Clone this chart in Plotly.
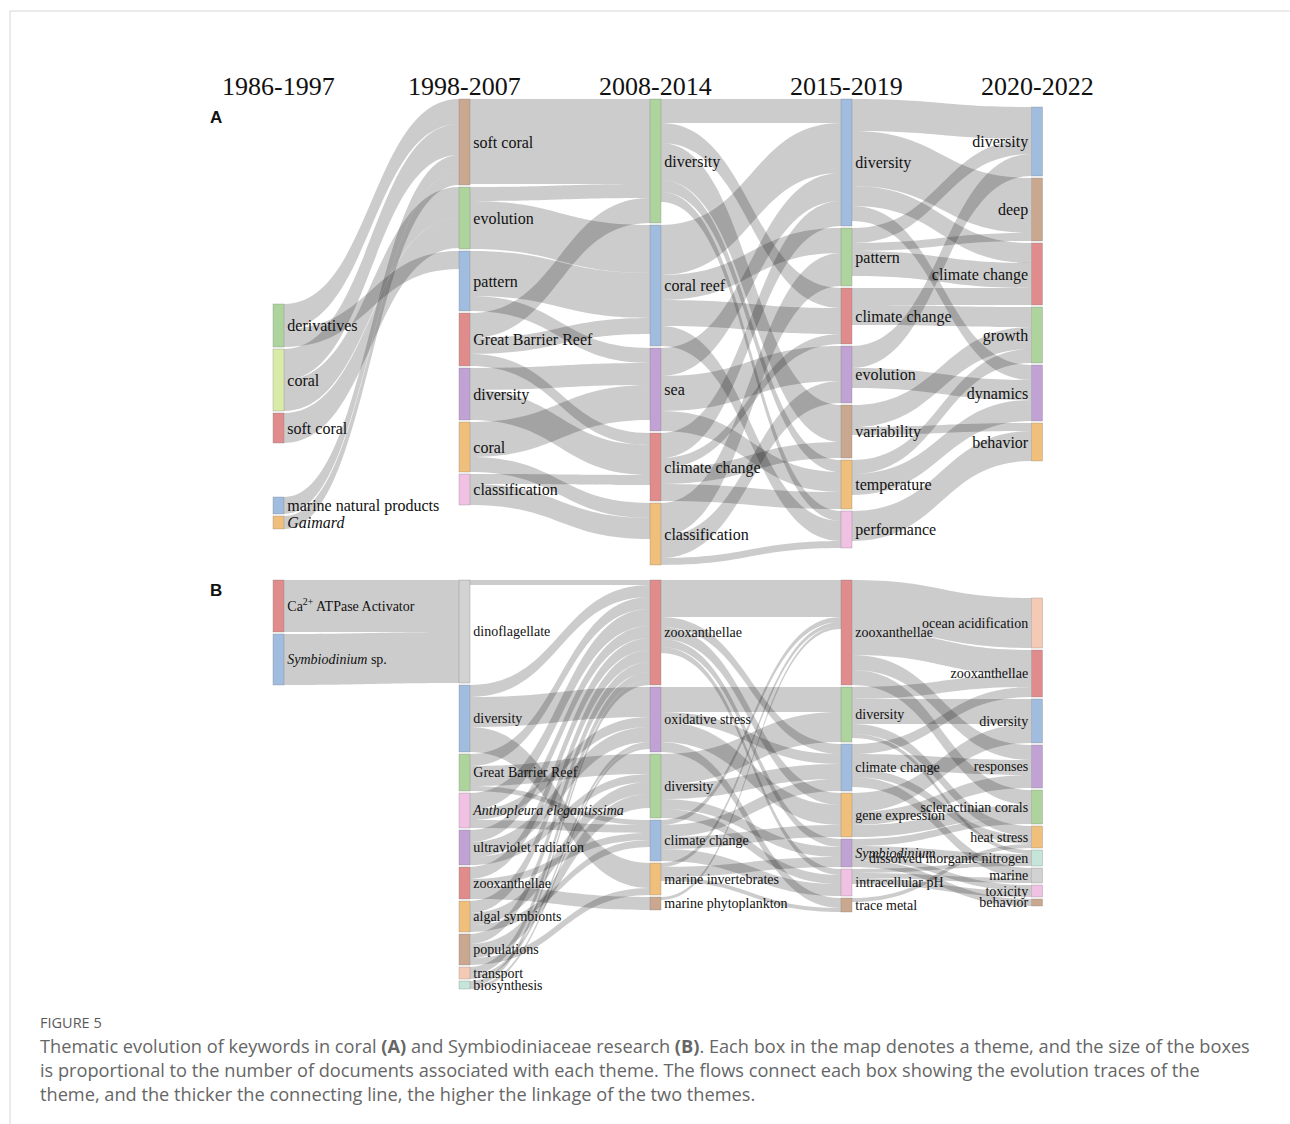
import plotly.graph_objects as go

# ---------------------------------------------------------------------------
# Data
# ---------------------------------------------------------------------------
PERIODS = ["1986-1997", "1998-2007", "2008-2014", "2015-2019", "2020-2022"]

# Panel A - coral research: themes per period (top to bottom)
A_COL1 = ["derivatives", "coral", "soft coral", "marine natural products", "Gaimard"]
A_COL2 = ["soft coral", "evolution", "pattern", "Great Barrier Reef", "diversity",
          "coral", "classification"]
A_COL3 = ["diversity", "coral reef", "sea", "climate change", "classification"]
A_COL4 = ["diversity", "pattern", "climate change", "evolution", "variability",
          "temperature", "performance"]
A_COL5 = ["diversity", "deep", "climate change", "growth", "dynamics", "behavior"]

# Panel A flows between consecutive periods: (theme in period k, theme in period k+1, weight)
A_FLOW_12 = [("derivatives", "soft coral", 25), ("derivatives", "pattern", 18),
             ("coral", "soft coral", 31), ("coral", "evolution", 31),
             ("soft coral", "evolution", 30),
             ("marine natural products", "soft coral", 17), ("Gaimard", "soft coral", 13)]
A_FLOW_23 = [("soft coral", "diversity", 85),
             ("evolution", "diversity", 14), ("evolution", "coral reef", 48),
             ("pattern", "coral reef", 45), ("pattern", "sea", 15),
             ("Great Barrier Reef", "diversity", 25), ("Great Barrier Reef", "coral reef", 16),
             ("Great Barrier Reef", "climate change", 12),
             ("diversity", "sea", 22), ("diversity", "climate change", 30),
             ("coral", "sea", 35), ("coral", "classification", 15),
             ("classification", "climate change", 10), ("classification", "classification", 21)]
A_FLOW_34 = [("diversity", "diversity", 24), ("diversity", "climate change", 20),
             ("diversity", "variability", 37), ("diversity", "temperature", 12),
             ("diversity", "performance", 10),
             ("coral reef", "diversity", 50), ("coral reef", "pattern", 25),
             ("coral reef", "climate change", 26), ("coral reef", "performance", 20),
             ("sea", "diversity", 28), ("sea", "evolution", 35), ("sea", "temperature", 20),
             ("climate change", "diversity", 25), ("climate change", "climate change", 10),
             ("climate change", "temperature", 17), ("climate change", "variability", 16),
             ("classification", "pattern", 33), ("classification", "evolution", 22),
             ("classification", "performance", 7)]
A_FLOW_45 = [("diversity", "diversity", 32), ("diversity", "deep", 55),
             ("diversity", "climate change", 20), ("diversity", "dynamics", 15),
             ("pattern", "diversity", 15), ("pattern", "deep", 8), ("pattern", "climate change", 25),
             ("climate change", "climate change", 17), ("climate change", "growth", 20),
             ("evolution", "diversity", 22), ("evolution", "dynamics", 20),
             ("variability", "growth", 22), ("variability", "behavior", 8),
             ("temperature", "growth", 14), ("temperature", "dynamics", 21),
             ("performance", "behavior", 30)]

# Panel B - Symbiodiniaceae research
B_COL1 = ["Ca2+ ATPase Activator", "Symbiodinium sp."]
B_COL2 = ["dinoflagellate", "diversity", "Great Barrier Reef", "Anthopleura elegantissima",
          "ultraviolet radiation", "zooxanthellae", "algal symbionts", "populations",
          "transport", "biosynthesis"]
B_COL3 = ["zooxanthellae", "oxidative stress", "diversity", "climate change",
          "marine invertebrates", "marine phytoplankton"]
B_COL4 = ["zooxanthellae", "diversity", "climate change", "gene expression",
          "Symbiodinium", "intracellular pH", "trace metal"]
B_COL5 = ["ocean acidification", "zooxanthellae", "diversity", "responses",
          "scleractinian corals", "heat stress", "dissolved inorganic nitrogen",
          "marine", "toxicity", "behavior"]

B_FLOW_12 = [("Ca2+ ATPase Activator", "dinoflagellate", 52),
             ("Symbiodinium sp.", "dinoflagellate", 51)]
B_FLOW_23 = [("dinoflagellate", "zooxanthellae", 5),
             ("diversity", "zooxanthellae", 12), ("diversity", "oxidative stress", 30),
             ("diversity", "marine invertebrates", 25),
             ("Great Barrier Reef", "zooxanthellae", 12), ("Great Barrier Reef", "diversity", 20),
             ("Great Barrier Reef", "climate change", 5),
             ("Anthopleura elegantissima", "zooxanthellae", 17),
             ("Anthopleura elegantissima", "oxidative stress", 10),
             ("Anthopleura elegantissima", "climate change", 8),
             ("ultraviolet radiation", "zooxanthellae", 12),
             ("ultraviolet radiation", "oxidative stress", 15),
             ("ultraviolet radiation", "diversity", 8),
             ("zooxanthellae", "zooxanthellae", 12), ("zooxanthellae", "climate change", 7),
             ("zooxanthellae", "marine phytoplankton", 13),
             ("algal symbionts", "zooxanthellae", 12), ("algal symbionts", "diversity", 12),
             ("algal symbionts", "climate change", 7),
             ("populations", "zooxanthellae", 10), ("populations", "diversity", 14),
             ("populations", "marine invertebrates", 7),
             ("transport", "zooxanthellae", 8), ("transport", "oxidative stress", 4),
             ("biosynthesis", "zooxanthellae", 5), ("biosynthesis", "oxidative stress", 3)]
B_FLOW_34 = [("zooxanthellae", "zooxanthellae", 37), ("zooxanthellae", "climate change", 10),
             ("zooxanthellae", "gene expression", 12), ("zooxanthellae", "Symbiodinium", 8),
             ("zooxanthellae", "intracellular pH", 6),
             ("oxidative stress", "diversity", 25), ("oxidative stress", "gene expression", 20),
             ("oxidative stress", "climate change", 10), ("oxidative stress", "trace metal", 10),
             ("diversity", "diversity", 30), ("diversity", "climate change", 15),
             ("diversity", "Symbiodinium", 10), ("diversity", "intracellular pH", 9),
             ("climate change", "zooxanthellae", 5), ("climate change", "climate change", 12),
             ("climate change", "gene expression", 12), ("climate change", "intracellular pH", 12),
             ("marine invertebrates", "zooxanthellae", 4),
             ("marine invertebrates", "Symbiodinium", 10),
             ("marine invertebrates", "trace metal", 4),
             ("marine phytoplankton", "zooxanthellae", 3)]
B_FLOW_45 = [("zooxanthellae", "ocean acidification", 50), ("zooxanthellae", "zooxanthellae", 25),
             ("zooxanthellae", "responses", 15), ("zooxanthellae", "scleractinian corals", 15),
             ("diversity", "zooxanthellae", 12), ("diversity", "diversity", 25),
             ("diversity", "heat stress", 10), ("diversity", "dissolved inorganic nitrogen", 4),
             ("climate change", "zooxanthellae", 10), ("climate change", "responses", 15),
             ("climate change", "heat stress", 8), ("climate change", "marine", 10),
             ("gene expression", "diversity", 19), ("gene expression", "responses", 13),
             ("gene expression", "scleractinian corals", 12),
             ("Symbiodinium", "scleractinian corals", 7),
             ("Symbiodinium", "dissolved inorganic nitrogen", 8),
             ("Symbiodinium", "toxicity", 6), ("Symbiodinium", "behavior", 7),
             ("intracellular pH", "dissolved inorganic nitrogen", 4),
             ("intracellular pH", "marine", 5), ("intracellular pH", "toxicity", 6),
             ("trace metal", "heat stress", 4)]

# Display text for themes that need italics or superscripts
RICH_LABELS = {
    "Gaimard": "<i>Gaimard</i>",
    "Ca2+ ATPase Activator": "Ca<sup>2+</sup> ATPase Activator",
    "Symbiodinium sp.": "<i>Symbiodinium</i> sp.",
    "Anthopleura elegantissima": "<i>Anthopleura elegantissima</i>",
    "Symbiodinium": "<i>Symbiodinium</i>",
}

CAPTION_TITLE = "FIGURE 5"
CAPTION_LINES = [
    "Thematic evolution of keywords in coral <b>(A)</b> and Symbiodiniaceae research <b>(B)</b>. "
    "Each box in the map denotes a theme, and the size of the boxes",
    "is proportional to the number of documents associated with each theme. "
    "The flows connect each box showing the evolution traces of the",
    "theme, and the thicker the connecting line, the higher the linkage of the two themes.",
]

# ---------------------------------------------------------------------------
# Styling / layout
# ---------------------------------------------------------------------------
W, H = 1290, 1124
PALETTE = {
    "green": "rgba(160,205,140,0.85)", "lime": "rgba(214,233,160,0.9)",
    "red": "rgba(219,120,120,0.85)", "blue": "rgba(150,182,220,0.9)",
    "orange": "rgba(238,184,110,0.9)", "brown": "rgba(196,158,132,0.9)",
    "purple": "rgba(186,152,208,0.9)", "pink": "rgba(238,186,224,0.9)",
    "peach": "rgba(244,196,172,0.9)", "mint": "rgba(190,226,212,0.9)",
    "gray": "rgba(205,205,205,0.9)",
}
A_COLORS = [
    ["green", "lime", "red", "blue", "orange"],
    ["brown", "green", "blue", "red", "purple", "orange", "pink"],
    ["green", "blue", "purple", "red", "orange"],
    ["blue", "green", "red", "purple", "brown", "orange", "pink"],
    ["blue", "brown", "red", "green", "purple", "orange"],
]
B_COLORS = [
    ["red", "blue"],
    ["gray", "blue", "green", "pink", "purple", "red", "orange", "brown", "peach", "mint"],
    ["red", "purple", "green", "blue", "orange", "brown"],
    ["red", "green", "blue", "orange", "purple", "pink", "brown"],
    ["peach", "red", "blue", "purple", "green", "orange", "mint", "gray", "pink", "brown"],
]
COL_CENTER_PX = [278.5, 464.5, 655.5, 846.5, 1037]
A_COL_TOP_PX = [304, 99, 99, 99, 107]
B_COL_TOP_PX = [580, 580, 580, 580, 598]
A_EXTRA_GAP = {(0, "marine natural products"): 52}
NODE_GAP = 2
PAD = 2
LINK_COLOR = "rgba(0,0,0,0.2)"
SERIF = "Liberation Serif, Times New Roman, serif"


def build_sankey(columns, flows, colors, col_top, extra_gap, font_size):
    nodes = [(c, k) for c, col in enumerate(columns) for k in col]
    idx = {n: i for i, n in enumerate(nodes)}
    src, tgt, val = [], [], []
    for c, pair in enumerate(flows):
        for s, t, v in pair:
            src.append(idx[(c, s)])
            tgt.append(idx[(c + 1, t)])
            val.append(v)
    n = len(nodes)
    inflow, outflow = [0] * n, [0] * n
    outs = {i: [] for i in range(n)}
    for s, t, v in zip(src, tgt, val):
        outflow[s] += v
        inflow[t] += v
        if t not in outs[s]:
            outs[s].append(t)
    size = [max(a, b) for a, b in zip(inflow, outflow)]

    # d3-sankey (justify) layering, used to pick a domain height giving 1 unit = 1 px
    depth = [0] * n
    current, x = list(range(n)), 0
    while current:
        nxt = []
        for i in current:
            depth[i] = x
            for t in outs[i]:
                if t not in nxt:
                    nxt.append(t)
        current, x = nxt, x + 1
    layer = [depth[i] if outs[i] else x - 1 for i in range(n)]
    span = 0
    for L in set(layer):
        members = [i for i in range(n) if layer[i] == L]
        span = max(span, sum(size[i] for i in members) + (len(members) - 1) * PAD)

    top = min(col_top)
    xs, ys, labels, cols = [], [], [], []
    for c, col in enumerate(columns):
        y = col_top[c]
        for j, k in enumerate(col):
            i = idx[(c, k)]
            y += extra_gap.get((c, k), 0)
            ys.append((y + size[i] / 2 - top) / span)
            xs.append(COL_CENTER_PX[c] / W)
            labels.append(RICH_LABELS.get(k, k))
            cols.append(PALETTE[colors[c][j]])
            y += size[i] + NODE_GAP

    font = dict(family=SERIF, size=font_size, color="#111")
    try:
        go.sankey.Textfont(shadow="none")
        font["shadow"] = "none"
    except Exception:
        pass

    return go.Sankey(
        arrangement="fixed",
        domain=dict(x=[0, 1], y=[1 - (top + span) / H, 1 - top / H]),
        node=dict(label=labels, color=cols, x=xs, y=ys, pad=PAD, thickness=11,
                  line=dict(color="rgba(120,120,120,0.5)", width=0.6), hoverinfo="none"),
        link=dict(source=src, target=tgt, value=val, color=LINK_COLOR, hoverinfo="none"),
        textfont=font,
    )


fig = go.Figure()
fig.add_trace(build_sankey([A_COL1, A_COL2, A_COL3, A_COL4, A_COL5],
                           [A_FLOW_12, A_FLOW_23, A_FLOW_34, A_FLOW_45],
                           A_COLORS, A_COL_TOP_PX, A_EXTRA_GAP, 16))
fig.add_trace(build_sankey([B_COL1, B_COL2, B_COL3, B_COL4, B_COL5],
                           [B_FLOW_12, B_FLOW_23, B_FLOW_34, B_FLOW_45],
                           B_COLORS, B_COL_TOP_PX, {}, 14))

ann = []
for c, period in enumerate(PERIODS):
    ann.append(dict(x=COL_CENTER_PX[c] / W, y=1 - 86 / H, text=period, showarrow=False,
                    xanchor="center", yanchor="middle",
                    font=dict(family=SERIF, size=26, color="#111")))
for letter, py in (("A", 117), ("B", 590)):
    ann.append(dict(x=216 / W, y=1 - py / H, text=f"<b>{letter}</b>", showarrow=False,
                    xanchor="center", yanchor="middle",
                    font=dict(family="Liberation Sans, Arial, sans-serif", size=17, color="#111")))
ann.append(dict(x=38 / W, y=1 - 1022 / H, text=CAPTION_TITLE, showarrow=False,
                xanchor="left", yanchor="middle",
                font=dict(family="Open Sans, sans-serif", size=14.5, color="#5a5a5a")))
for k, line in enumerate(CAPTION_LINES):
    ann.append(dict(x=38 / W, y=1 - (1046 + 24 * k) / H, text=line, showarrow=False,
                    xanchor="left", yanchor="middle",
                    font=dict(family="Open Sans, sans-serif", size=18.2, color="#666666")))

frame = dict(type="line", xref="paper", yref="paper", line=dict(color="#d6d6d6", width=1))
shapes = [dict(frame, x0=10 / W, x1=1, y0=1 - 11 / H, y1=1 - 11 / H),
          dict(frame, x0=10 / W, x1=10 / W, y0=1 - 11 / H, y1=0)]

fig.update_layout(width=W, height=H, margin=dict(l=0, r=0, t=0, b=0),
                  paper_bgcolor="white", plot_bgcolor="white",
                  annotations=ann, shapes=shapes, showlegend=False)
fig.write_html("out.html")
